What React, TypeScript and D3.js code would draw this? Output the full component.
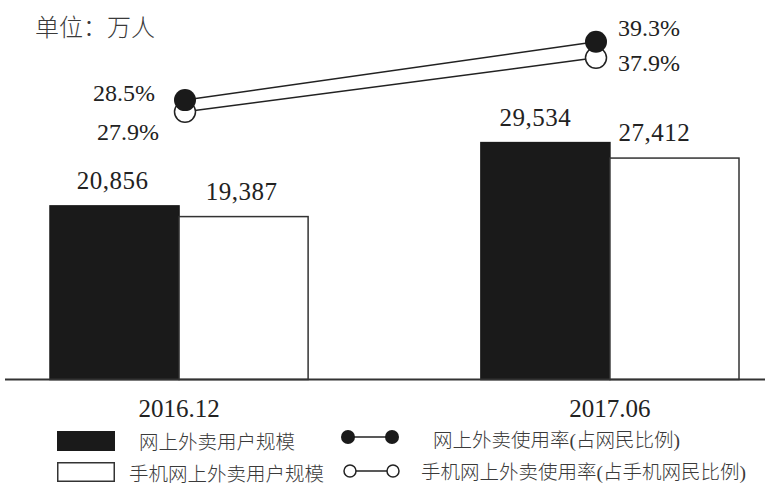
import React from "react";
import * as d3 from "d3";

const categories = ["2016.12", "2017.06"];
const seriesNames = ["网上外卖用户规模", "手机网上外卖用户规模"];
const usersAll = [20856, 29534];
const usersMobile = [19387, 27412];
const rateNames = ["网上外卖使用率(占网民比例)", "手机网上外卖使用率(占手机网民比例)"];
const rateAll = [28.5, 39.3];
const rateMobile = [27.9, 37.9];
const unitLabel = "单位：万人";

const W = 765;
const H = 484;
const NUM_FONT = "'Liberation Serif', 'DejaVu Serif', serif";
const CJK_FONT = "'Liberation Serif', 'Noto Sans CJK SC', serif";

export default function App() {
  const baseY = 379.5;
  const x0 = d3.scaleBand<string>().domain(categories).range([50, 739]).paddingInner(0.401).paddingOuter(0);
  const x1 = d3.scaleBand<number>().domain([0, 1]).range([0, x0.bandwidth()]).padding(0);
  const y = d3.scaleLinear().domain([-2950, 30000]).range([baseY, 139.2]);

  const xr = d3.scalePoint<string>().domain(categories).range([185, 596]);
  const yr = d3.scaleLinear().domain([25, 40]).range([119, 38]);
  const openShift = 8.5;

  const barSeries = [usersAll, usersMobile];
  const fmt = d3.format(",");

  const lineGen = (shift: number) =>
    d3
      .line<number>()
      .x((_, i) => xr(categories[i]) as number)
      .y((d) => yr(d) + shift);

  const ptsAll = rateAll.map((v, i) => ({ x: xr(categories[i]) as number, y: yr(v), v }));
  const ptsMob = rateMobile.map((v, i) => ({ x: xr(categories[i]) as number, y: yr(v) + openShift, v }));

  return (
    <svg width={W} height={H} style={{ position: "absolute", left: 0, top: 0, background: "#fff" }}>
      <text x={35} y={36} fontFamily={CJK_FONT} fontSize={24} fontWeight={300} fill="#3a3a3a">
        {unitLabel}
      </text>

      {/* bars */}
      {categories.map((c, ci) =>
        barSeries.map((s, si) => {
          const bx = (x0(c) as number) + (x1(si) as number);
          const by = y(s[ci]);
          return (
            <g key={c + si}>
              <rect
                x={bx}
                y={by}
                width={x1.bandwidth()}
                height={baseY - by}
                fill={si === 0 ? "#1a1a1a" : "#fff"}
                stroke={si === 0 ? "#1a1a1a" : "#333"}
                strokeWidth={1.5}
              />
              <text
                x={bx + x1.bandwidth() / 2 - (ci === 1 ? 10 + si * 10 : 2)}
                y={by - 17}
                textAnchor="middle"
                fontFamily={NUM_FONT}
                fontSize={25}
                letterSpacing={0.5}
                fill="#222"
              >
                {fmt(s[ci])}
              </text>
            </g>
          );
        })
      )}

      {/* axis baseline */}
      <line x1={5} x2={W} y1={baseY} y2={baseY} stroke="#333" strokeWidth={2} />
      {categories.map((c) => (
        <text
          key={c}
          x={(x0(c) as number) + x0.bandwidth() / 2}
          y={417}
          textAnchor="middle"
          fontFamily={NUM_FONT}
          fontSize={25}
          fill="#222"
        >
          {c}
        </text>
      ))}

      {/* rate lines */}
      <path d={lineGen(openShift)(rateMobile) || ""} fill="none" stroke="#222" strokeWidth={1.5} />
      <path d={lineGen(0)(rateAll) || ""} fill="none" stroke="#222" strokeWidth={1.5} />
      {ptsMob.map((p, i) => (
        <circle key={"m" + i} cx={p.x} cy={p.y} r={10.5} fill="#fff" stroke="#222" strokeWidth={1.5} />
      ))}
      {ptsAll.map((p, i) => (
        <circle key={"a" + i} cx={p.x} cy={p.y} r={11} fill="#1a1a1a" />
      ))}
      {ptsAll.map((p, i) => (
        <text
          key={"ta" + i}
          x={i === 0 ? p.x - 30 : p.x + 22}
          y={i === 0 ? p.y + 1 : p.y - 6}
          textAnchor={i === 0 ? "end" : "start"}
          fontFamily={NUM_FONT}
          fontSize={24}
          fill="#222"
        >
          {p.v.toFixed(1)}%
        </text>
      ))}
      {ptsMob.map((p, i) => (
        <text
          key={"tm" + i}
          x={i === 0 ? p.x - 26 : p.x + 22}
          y={i === 0 ? p.y + 28 : p.y + 13}
          textAnchor={i === 0 ? "end" : "start"}
          fontFamily={NUM_FONT}
          fontSize={24}
          fill="#222"
        >
          {p.v.toFixed(1)}%
        </text>
      ))}

      {/* legend */}
      <rect x={57} y={431} width={58} height={20} fill="#1a1a1a" />
      <rect x={57.75} y={462.75} width={56.5} height={18.5} fill="#fff" stroke="#333" strokeWidth={1.5} />
      <text x={139} y={442} dominantBaseline="central" fontFamily={CJK_FONT} fontSize={19.5} fontWeight={300} fill="#3a3a3a">
        {seriesNames[0]}
      </text>
      <text x={129} y={474} dominantBaseline="central" fontFamily={CJK_FONT} fontSize={19.5} fontWeight={300} fill="#3a3a3a">
        {seriesNames[1]}
      </text>

      <line x1={348} x2={392} y1={437} y2={437} stroke="#222" strokeWidth={1.5} />
      <circle cx={348} cy={437} r={7} fill="#1a1a1a" />
      <circle cx={392} cy={437} r={7} fill="#1a1a1a" />
      <line x1={350} x2={393} y1={471} y2={471} stroke="#222" strokeWidth={1.5} />
      <circle cx={350} cy={471} r={6} fill="#fff" stroke="#222" strokeWidth={1.5} />
      <circle cx={393} cy={471} r={6} fill="#fff" stroke="#222" strokeWidth={1.5} />
      <text x={433} y={440} dominantBaseline="central" fontFamily={CJK_FONT} fontSize={19.5} fontWeight={300} fill="#3a3a3a">
        {rateNames[0]}
      </text>
      <text x={421} y={472} dominantBaseline="central" fontFamily={CJK_FONT} fontSize={19.5} fontWeight={300} fill="#3a3a3a">
        {rateNames[1]}
      </text>
    </svg>
  );
}
